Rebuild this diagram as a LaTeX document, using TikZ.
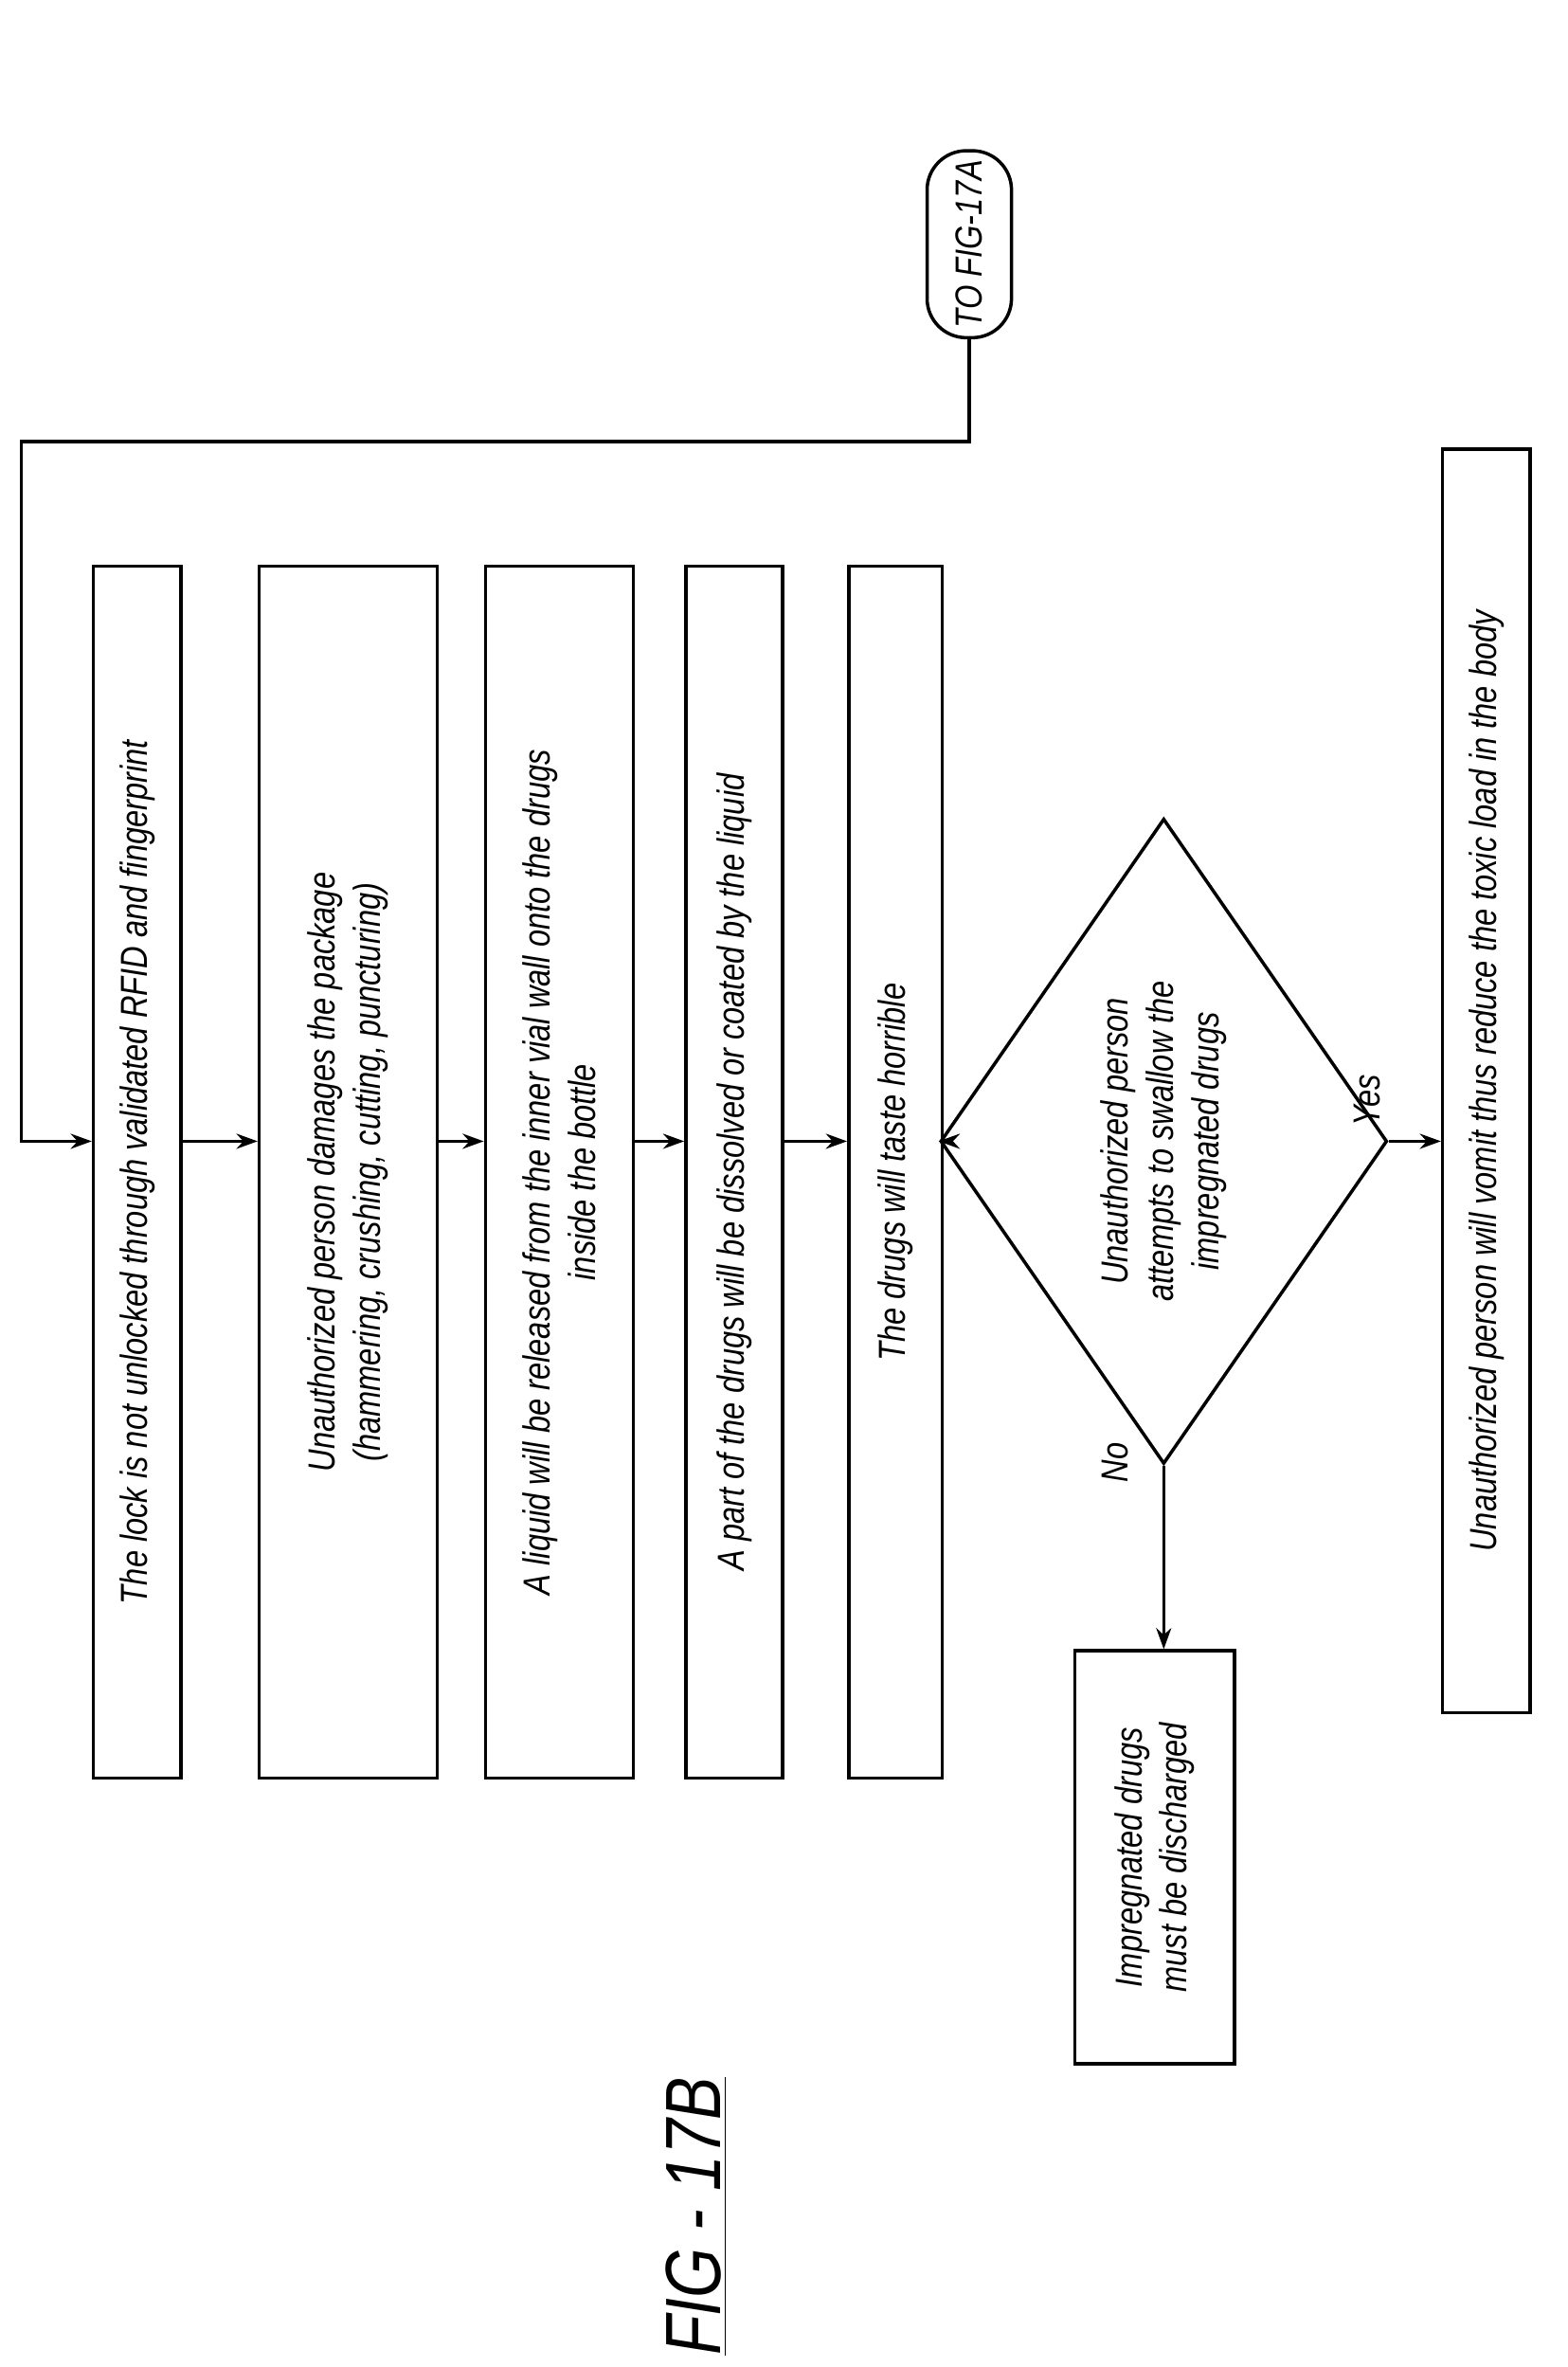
\documentclass[tikz,border=0pt]{standalone}
\usepackage{fontspec}
\setmainfont{Liberation Sans}[FakeStretch=0.82]
\usetikzlibrary{arrows.meta,shapes.geometric}
\begin{document}
\begin{tikzpicture}[x=0.5pt,y=0.5pt,line width=1.1pt,
    stage/.style={rectangle, draw, rotate=90, align=center, inner sep=0pt,
        font=\fontsize{12.5}{15}\selectfont\itshape},
    flow/.style={-{Stealth[length=7pt,width=5pt]}}]
    \useasboundingbox (0,0) rectangle (1040,1570);
    \coordinate (row) at (0,813);
    \coordinate (corner) at (14,1277);

    \node[stage, minimum width=402pt, minimum height=29pt] (lock) at (91,792.5)
        {The lock is not unlocked through validated RFID and fingerprint};
    \node[stage, minimum width=402pt, minimum height=59pt] (damage) at (231,792.5)
        {Unauthorized person damages the package\\(hammering, crushing, cutting, puncturing)};
    \node[stage, minimum width=402pt, minimum height=49pt] (liquid) at (371,792.5)
        {A liquid will be released from the inner vial wall onto the drugs\\inside the bottle};
    \node[stage, minimum width=402pt, minimum height=32pt] (coat) at (487,792.5)
        {A part of the drugs will be dissolved or coated by the liquid};
    \node[stage, minimum width=402pt, minimum height=31pt] (taste) at (594,792.5)
        {The drugs will taste horrible};
    \node[stage, diamond, minimum width=214pt, minimum height=115pt] (swallow) at (772,813)
        {Unauthorized person\\attempts to swallow the\\impregnated drugs};
    \node[stage, minimum width=137pt, minimum height=53pt] (discharge) at (766,338)
        {Impregnated drugs\\must be discharged};
    \node[stage, minimum width=419pt, minimum height=29pt] (vomit) at (986,853)
        {Unauthorized person will vomit thus reduce the toxic load in the body};
    \node[stage, rounded corners=13pt, minimum width=62pt, minimum height=28pt] (toA) at (643,1408)
        {TO FIG-17A};

    \node[rotate=90, font=\fontsize{12.5}{15}\selectfont\itshape] (yes) at (907,840) {Yes};
    \node[rotate=90, font=\fontsize{12.5}{15}\selectfont\itshape] (no) at (740,600) {No};
    \node[rotate=90, font=\fontsize{26}{30}\selectfont\itshape] (fig) at (462,100)
        {\underline{FIG - 17B}};

    \draw[flow] (toA.west) |- (corner) |- (lock.north |- row);
    \draw[flow] (lock.south |- row) -- (damage.north |- row);
    \draw[flow] (damage.south |- row) -- (liquid.north |- row);
    \draw[flow] (liquid.south |- row) -- (coat.north |- row);
    \draw[flow] (coat.south |- row) -- (taste.north |- row);
    \draw[flow] (taste.south |- row) -- (swallow.north);
    \draw[flow] (swallow.south) -- (vomit.north |- swallow.south);
    \draw[flow] (swallow.west) -- (swallow.west |- discharge.east);
\end{tikzpicture}
\end{document}
